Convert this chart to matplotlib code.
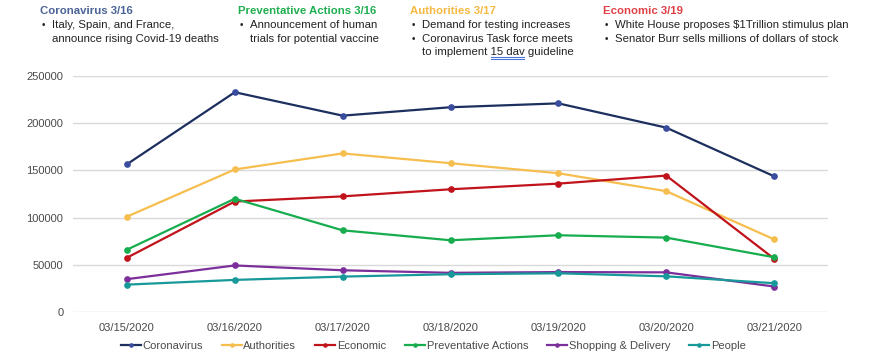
import matplotlib.pyplot as plt
from matplotlib.lines import Line2D

plt.rcParams['font.family'] = ['Liberation Sans', 'DejaVu Sans']

dates = ['03/15/2020', '03/16/2020', '03/17/2020', '03/18/2020',
         '03/19/2020', '03/20/2020', '03/21/2020']

coronavirus = [156500, 232800, 208000, 216900, 221000, 195300, 143800]
authorities = [101000, 151000, 168000, 157600, 147000, 128000, 77000]
economic = [57500, 117000, 122500, 130000, 136000, 144500, 56500]
preventative = [66000, 120000, 86500, 76000, 81300, 78800, 58000]
shopping = [34800, 49300, 44200, 41500, 42300, 42000, 27000]
people = [29000, 34000, 37500, 40000, 41000, 37800, 30500]

series = [
    ('Coronavirus', coronavirus, '#1c2f5e', '#3a4c9e'),
    ('Authorities', authorities, '#f6be4f', '#f6be4f'),
    ('Economic', economic, '#c0131b', '#c0131b'),
    ('Preventative Actions', preventative, '#17ad4f', '#17ad4f'),
    ('Shopping & Delivery', shopping, '#7c2f9b', '#7c2f9b'),
    ('People', people, '#17999a', '#17999a'),
]

fig = plt.figure(figsize=(8.75, 3.57), dpi=100)
ax = fig.add_axes([73 / 875, 1 - 312 / 357, (828 - 73) / 875, (312 - 76) / 357])

x = list(range(len(dates)))
for name, vals, lc, mc in series:
    ax.plot(x, vals, color=lc, lw=1.6, marker='o', markersize=3.8,
            markerfacecolor=mc, markeredgecolor=mc, label=name, zorder=3)

ax.set_xlim(-0.5, len(dates) - 0.5)
ax.set_ylim(0, 250000)
ax.set_yticks([0, 50000, 100000, 150000, 200000, 250000])
ax.set_yticklabels(['0', '50000', '100000', '150000', '200000', '250000'])
ax.set_xticks(x)
ax.set_xticklabels(dates)
ax.tick_params(length=0, labelsize=8, labelcolor='#4a4a4a')
ax.tick_params(axis='y', pad=7)
ax.tick_params(axis='x', pad=8)
ax.grid(axis='y', color='#d9d9d9', lw=1)
ax.set_axisbelow(True)
for s in ax.spines.values():
    s.set_visible(False)

leg = fig.legend(loc='lower center', bbox_to_anchor=(0.495, -0.01), ncol=6,
                 frameon=False, fontsize=8, handlelength=1.8, handletextpad=0.15,
                 columnspacing=1.7, labelcolor='#4a4a4a', markerscale=0.6)

# event notes above the chart
notes = [
    (40, 'Coronavirus 3/16', '#4a6395',
     [['Italy, Spain, and France,', 'announce rising Covid-19 deaths']]),
    (238, 'Preventative Actions 3/16', '#1fae50',
     [['Announcement of human', 'trials for potential vaccine']]),
    (410, 'Authorities 3/17', '#f5b843',
     [['Demand for testing increases'],
      ['Coronavirus Task force meets', 'to implement 15 dav guideline']]),
    (603, 'Economic 3/19', '#df4146',
     [['White House proposes $1Trillion stimulus plan'],
      ['Senator Burr sells millions of dollars of stock']]),
]
for x0, title, col, bullets in notes:
    fig.text(x0 / 875, 1 - 11 / 357, title, color=col, fontsize=8.2,
             fontweight='bold', va='center', ha='left')
    yy = 25
    for lines in bullets:
        fig.text((x0 + 2) / 875, 1 - yy / 357, '\u2022', fontsize=7,
                 va='center', ha='left', color='#222222')
        for ln in lines:
            fig.text((x0 + 12) / 875, 1 - yy / 357, ln, fontsize=8.2,
                     va='center', ha='left', color='#222222')
            yy += 13.5

# spell-check underline under "15 dav"
for yl in (57, 59):
    fig.add_artist(Line2D([491 / 875, 524 / 875], [1 - yl / 357, 1 - yl / 357],
                          color='#4a78d6', lw=0.8))

fig.savefig('out.png', dpi=100)
